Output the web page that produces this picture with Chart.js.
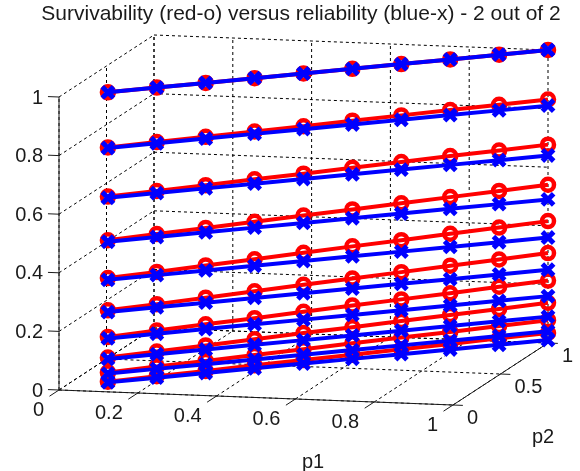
<!DOCTYPE html>
<html>
<head>
<meta charset="utf-8">
<title>Survivability versus reliability</title>
<script src="https://cdn.jsdelivr.net/npm/chart.js@4"></script>
<style>
  html, body { margin: 0; padding: 0; background: #fff; }
  #chart { display: block; filter: blur(0.5px); }
</style>
</head>
<body>
<canvas id="chart" width="580" height="471"></canvas>
<script>
const chartTitle = "Survivability (red-o) versus reliability (blue-x) - 2 out of 2";

// p1 and p2 move together along the diagonal
const pValues = [0.1, 0.2, 0.3, 0.4, 0.5, 0.6, 0.7, 0.8, 0.9, 1];

const reliability = [
    [1, 1, 1, 1, 1, 1, 1, 1, 1, 1],
    [0.81, 0.81, 0.81, 0.81, 0.81, 0.81, 0.81, 0.81, 0.81, 0.81],
    [0.64, 0.64, 0.64, 0.64, 0.64, 0.64, 0.64, 0.64, 0.64, 0.64],
    [0.49, 0.49, 0.49, 0.49, 0.49, 0.49, 0.49, 0.49, 0.49, 0.49],
    [0.36, 0.36, 0.36, 0.36, 0.36, 0.36, 0.36, 0.36, 0.36, 0.36],
    [0.25, 0.25, 0.25, 0.25, 0.25, 0.25, 0.25, 0.25, 0.25, 0.25],
    [0.16, 0.16, 0.16, 0.16, 0.16, 0.16, 0.16, 0.16, 0.16, 0.16],
    [0.09, 0.09, 0.09, 0.09, 0.09, 0.09, 0.09, 0.09, 0.09, 0.09],
    [0.04, 0.04, 0.04, 0.04, 0.04, 0.04, 0.04, 0.04, 0.04, 0.04],
    [0.01, 0.01, 0.01, 0.01, 0.01, 0.01, 0.01, 0.01, 0.01, 0.01]
];

const survivability = [
    [1, 1, 1, 1, 1, 1, 1, 1, 1, 1],
    [0.812, 0.814, 0.816, 0.818, 0.82, 0.823, 0.825, 0.827, 0.829, 0.831],
    [0.644, 0.647, 0.651, 0.655, 0.658, 0.662, 0.666, 0.67, 0.673, 0.677],
    [0.495, 0.5, 0.505, 0.51, 0.515, 0.52, 0.525, 0.53, 0.535, 0.54],
    [0.366, 0.371, 0.377, 0.382, 0.388, 0.394, 0.399, 0.405, 0.41, 0.416],
    [0.256, 0.261, 0.267, 0.273, 0.279, 0.284, 0.29, 0.296, 0.301, 0.307],
    [0.165, 0.171, 0.176, 0.181, 0.187, 0.192, 0.197, 0.202, 0.208, 0.213],
    [0.095, 0.099, 0.104, 0.109, 0.114, 0.118, 0.123, 0.128, 0.132, 0.137],
    [0.044, 0.048, 0.051, 0.055, 0.059, 0.063, 0.067, 0.07, 0.074, 0.078],
    [0.012, 0.015, 0.017, 0.02, 0.022, 0.024, 0.027, 0.029, 0.032, 0.034]
];

const p1Ticks = [0, 0.2, 0.4, 0.6, 0.8, 1];
const p2Ticks = [0, 0.5, 1];
const zTicks = [0, 0.2, 0.4, 0.6, 0.8, 1];

// 3d view: where the unit box lands on the canvas
function project(p1, p2, z) {
    return {
        x: 59 + 394 * p1 + 95 * p2,
        y: 390 + 15 * p1 - 62 * p2 - 293 * z
    };
}

function edge(a, b, color, dash) {
    return {
        data: [project(a[0], a[1], a[2]), project(b[0], b[1], b[2])],
        showLine: true,
        borderColor: color,
        borderWidth: 1,
        borderDash: dash,
        pointRadius: 0,
        order: 3
    };
}

const gridLines = [];
const DASH = [3, 3];
const GRID_COLOR = "#000000";

p1Ticks.forEach(t => {
    gridLines.push(edge([t, 0, 0], [t, 1, 0], GRID_COLOR, DASH));
    gridLines.push(edge([t, 1, 0], [t, 1, 1], GRID_COLOR, DASH));
});
p2Ticks.forEach(t => {
    gridLines.push(edge([0, t, 0], [1, t, 0], GRID_COLOR, DASH));
    gridLines.push(edge([0, t, 0], [0, t, 1], GRID_COLOR, DASH));
});
zTicks.forEach(t => {
    gridLines.push(edge([0, 0, t], [0, 1, t], GRID_COLOR, DASH));
    gridLines.push(edge([0, 1, t], [1, 1, t], GRID_COLOR, DASH));
});

// solid axes and their tick marks
const AXIS_COLOR = "#1a1a1a";
const axisLines = [
    edge([0, 0, 0], [0, 0, 1], AXIS_COLOR, []),
    edge([0, 0, 0], [1, 0, 0], AXIS_COLOR, []),
    edge([1, 0, 0], [1, 1, 0], AXIS_COLOR, [])
];
zTicks.forEach(t => axisLines.push(edge([0, 0, t], [-0.028, 0, t], AXIS_COLOR, [])));
p1Ticks.forEach(t => axisLines.push(edge([t, 0, 0], [t, -0.1, 0], AXIS_COLOR, [])));
p2Ticks.forEach(t => axisLines.push(edge([1, t, 0], [1.025, t, 0], AXIS_COLOR, [])));

function seriesData(row) {
    return row.map((z, i) => project(pValues[i], pValues[i], z));
}

const redSets = survivability.map(row => ({
    data: seriesData(row),
    showLine: true,
    borderColor: "#ff0000",
    borderWidth: 4,
    pointStyle: "circle",
    pointRadius: 6,
    pointBorderWidth: 4.5,
    pointBorderColor: "#ff0000",
    pointBackgroundColor: "rgba(0,0,0,0)",
    order: 2
}));

const blueSets = reliability.map(row => ({
    data: seriesData(row),
    showLine: true,
    borderColor: "#0000ff",
    borderWidth: 4,
    pointStyle: "crossRot",
    pointRadius: 8,
    pointBorderWidth: 5,
    pointBorderColor: "#0000ff",
    order: 1
}));

const TEXT_COLOR = "#1a1a1a";
const TICK_FONT = "20px 'Liberation Sans', Arial, sans-serif";

const boxLabels = {
    id: "boxLabels",
    afterDraw(chart) {
        const ctx = chart.ctx;
        const sx = chart.scales.x;
        const sy = chart.scales.y;
        const put = (txt, x, y, align) => {
            ctx.textAlign = align;
            ctx.fillText(txt, sx.getPixelForValue(x), sy.getPixelForValue(y));
        };
        ctx.save();
        ctx.fillStyle = TEXT_COLOR;
        ctx.font = TICK_FONT;
        ctx.textBaseline = "middle";
        zTicks.forEach(t => {
            const pt = project(0, 0, t);
            put(String(t), 43, pt.y + 1, "right");
        });
        p1Ticks.forEach(t => {
            const pt = project(t, 0, 0);
            put(String(t), pt.x - 15, pt.y + 20, "right");
        });
        p2Ticks.forEach(t => {
            const pt = project(1, t, 0);
            put(String(t), pt.x + 14, pt.y + 13, "left");
        });
        put("p1", 313, 462, "center");
        put("p2", 543, 437, "center");
        ctx.restore();
    }
};

new Chart(document.getElementById("chart"), {
    type: "scatter",
    data: { datasets: [...blueSets, ...redSets, ...axisLines, ...gridLines] },
    options: {
        responsive: false,
        animation: false,
        layout: { autoPadding: false, padding: { left: 22, right: 0, top: 0, bottom: 0 } },
        plugins: {
            legend: { display: false },
            tooltip: { enabled: false },
            title: {
                display: true,
                text: chartTitle,
                color: TEXT_COLOR,
                font: { family: "'Liberation Sans', Arial, sans-serif", size: 21, weight: "normal", lineHeight: 1 },
                padding: { top: 4, bottom: 5 }
            }
        },
        scales: {
            x: { type: "linear", display: false, min: 22, max: 580 },
            y: { type: "linear", display: false, min: 30, max: 471, reverse: true }
        }
    },
    plugins: [boxLabels]
});
</script>
</body>
</html>
